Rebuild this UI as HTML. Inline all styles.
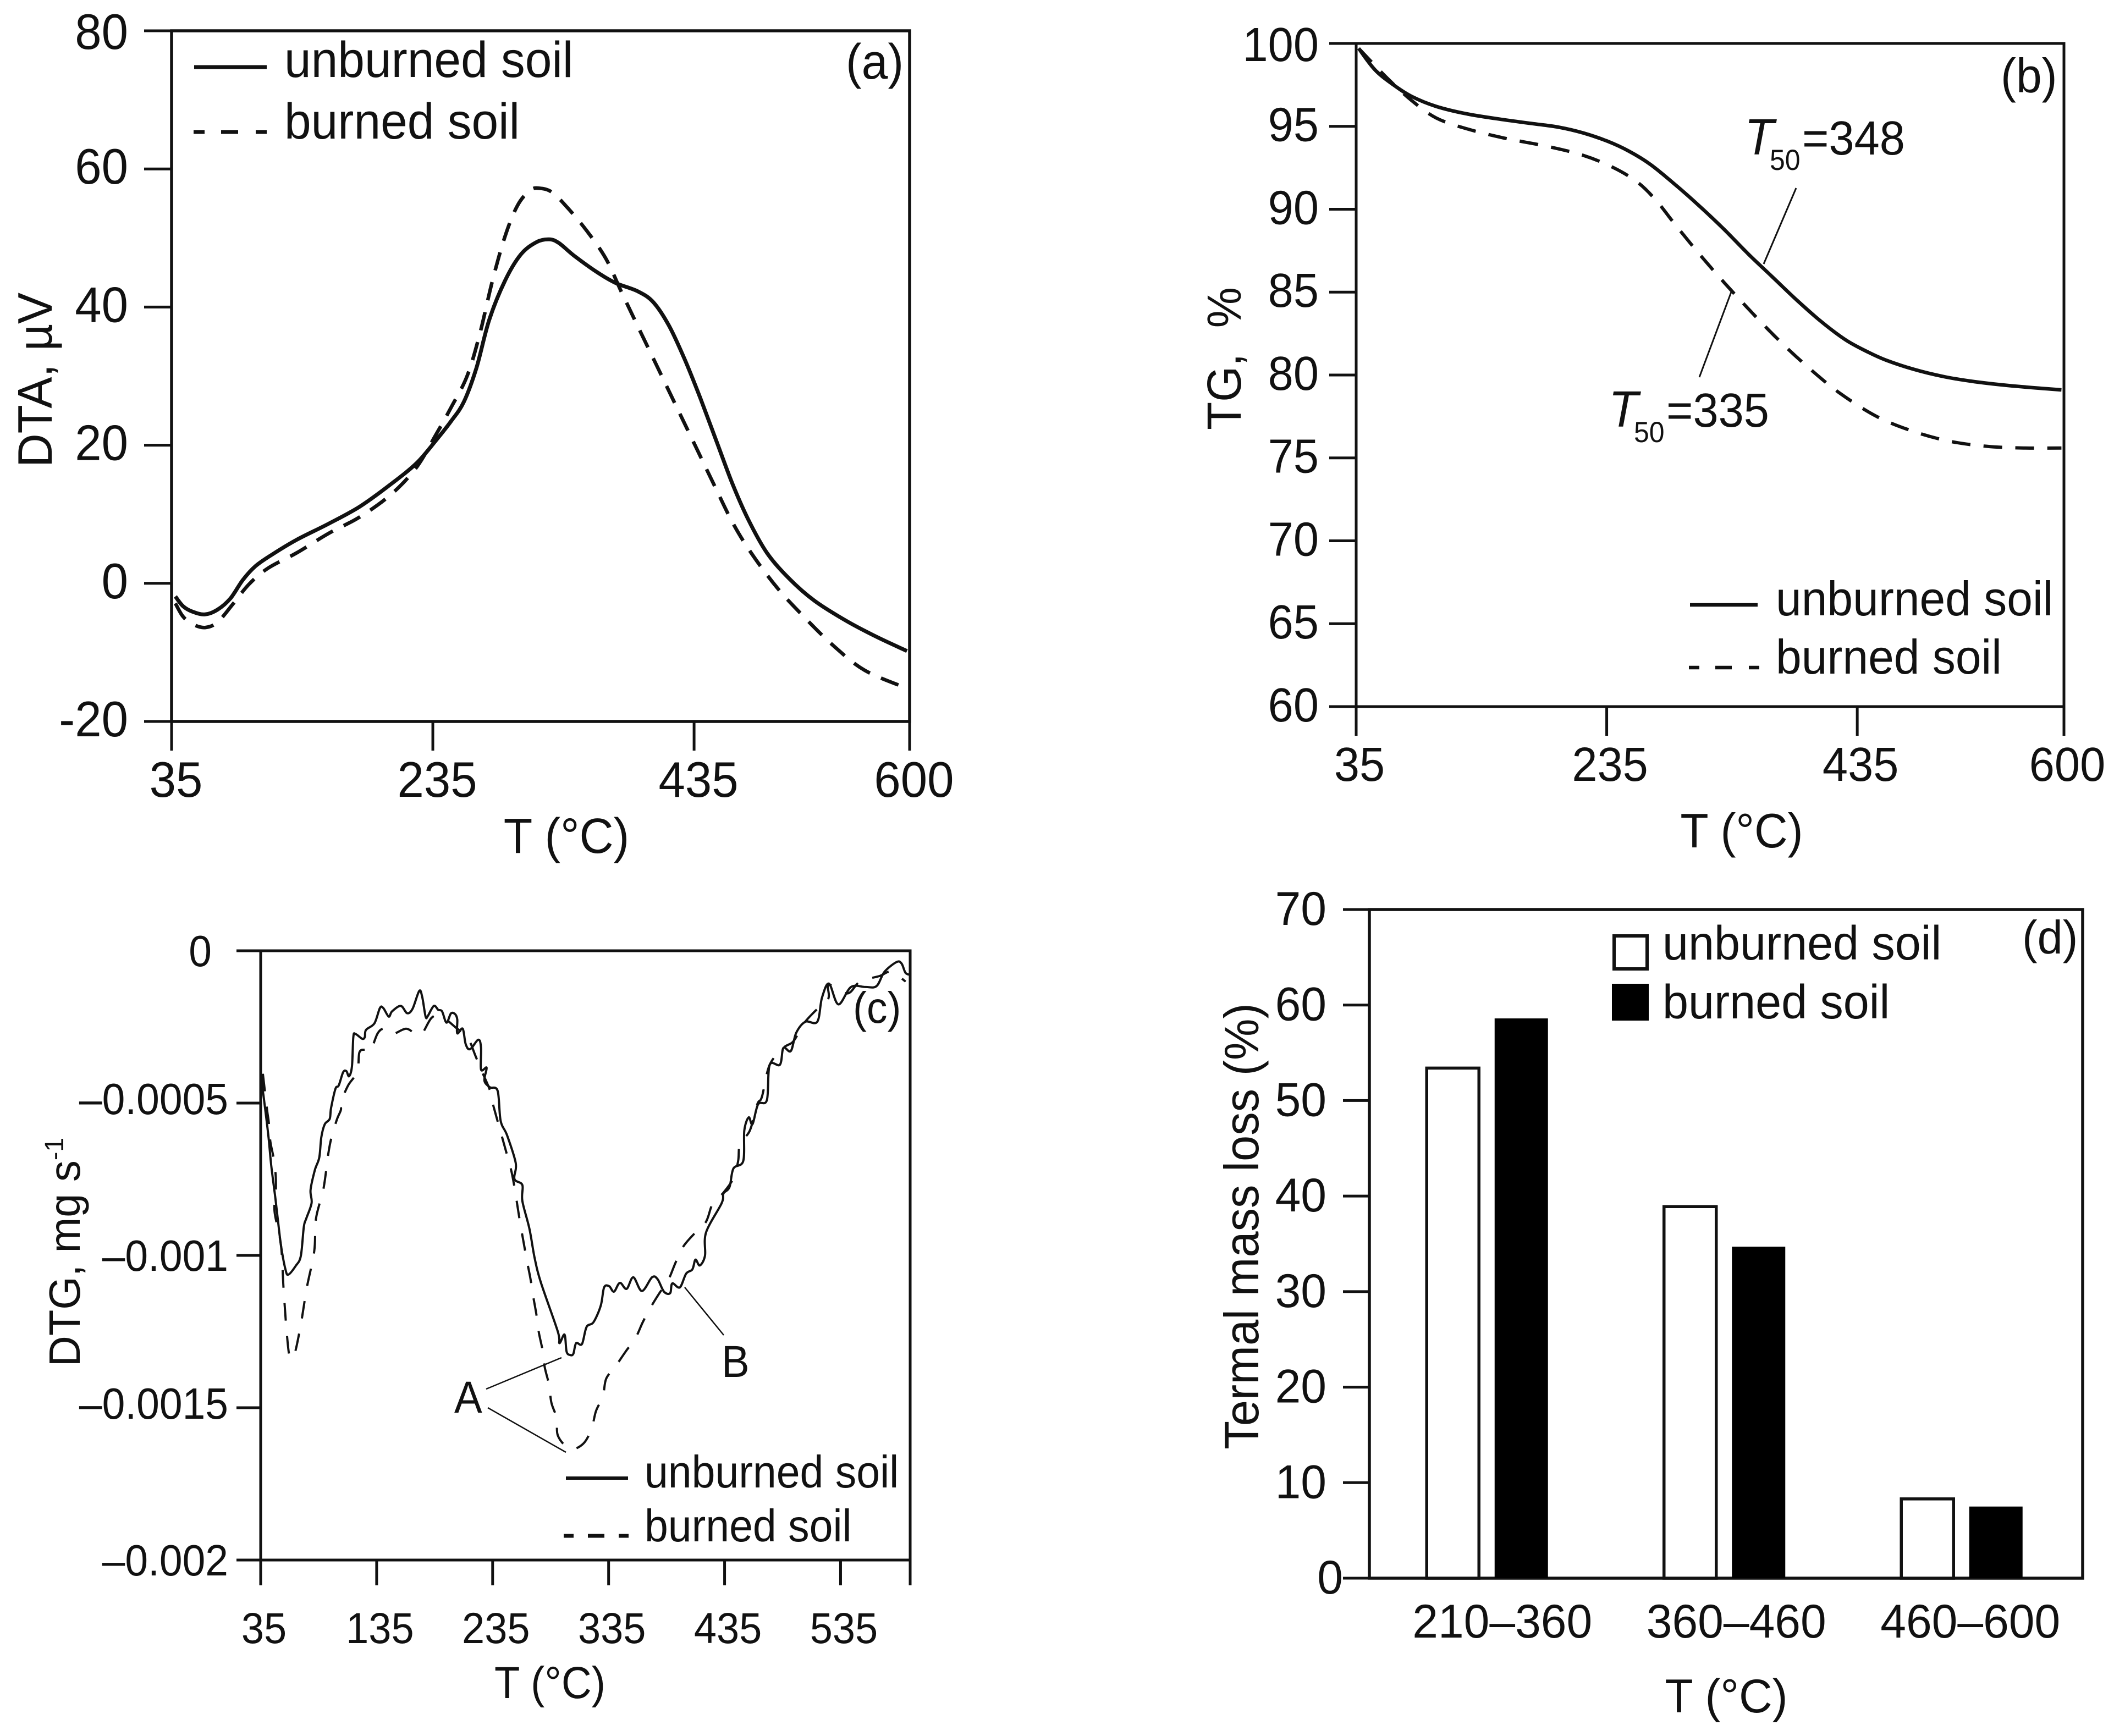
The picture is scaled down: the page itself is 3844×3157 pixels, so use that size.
<!DOCTYPE html>
<html lang="en">
<head>
<meta charset="utf-8">
<title>Thermal analysis of unburned and burned soil</title>
<style>
html,body{margin:0;padding:0;background:#fff;}
svg{display:block;}
text{font-family:"Liberation Sans",sans-serif;fill:#111;}
</style>
</head>
<body>
<svg id="figure" xmlns="http://www.w3.org/2000/svg" width="3844" height="3157" viewBox="0 0 3844 3157">
  <rect width="3844" height="3157" fill="#fff"/>

  <g id="panel-a" data-stretch="1.05">
    <rect x="312" y="56" width="1342" height="1256" fill="none" stroke="#111" stroke-width="5.5"/>
    <text x="1030" y="1551" font-size="86" text-anchor="middle">T (°C)</text>
    <text transform="translate(94,691) rotate(-90) scale(0.97,1)" font-size="88" text-anchor="middle">DTA, µV</text>
    <line x1="353" y1="122" x2="485" y2="122" stroke="#111" stroke-width="7"/>
    <line x1="352" y1="240" x2="485" y2="240" stroke="#111" stroke-width="7" stroke-dasharray="20 30 31 32 20"/>
    <text x="517" y="140" font-size="87.5">unburned soil</text>
    <text x="517" y="252" font-size="87.5">burned soil</text>
    <text x="1538" y="143" font-size="86">(a)</text>
  </g>

  <g id="panel-b" data-stretch="1.05">
    <rect x="2466" y="79" width="1287" height="1206" fill="none" stroke="#111" stroke-width="5"/>
    <text x="3167" y="1541" font-size="84" text-anchor="middle">T (°C)</text>
    <text transform="translate(2256,652) rotate(-90) scale(0.96,1)" font-size="87" text-anchor="middle" xml:space="preserve">TG,  %</text>
    <line x1="3073" y1="1100" x2="3196" y2="1100" stroke="#111" stroke-width="6.5"/>
    <line x1="3071" y1="1214" x2="3199" y2="1214" stroke="#111" stroke-width="6.5" stroke-dasharray="19 29 30 31 19"/>
    <text x="3229" y="1119" font-size="84">unburned soil</text>
    <text x="3229" y="1225" font-size="84">burned soil</text>
    <text x="3638" y="168" font-size="84">(b)</text>
    <text x="3172" y="281" font-size="88" font-style="italic">T</text>
    <text x="3218" y="309" font-size="50">50</text>
    <text x="3277" y="281" font-size="83">=348</text>
    <text x="2925" y="776" font-size="88" font-style="italic">T</text>
    <text x="2971" y="804" font-size="50">50</text>
    <text x="3030" y="776" font-size="83">=335</text>
    <line x1="3266" y1="342" x2="3207" y2="480" stroke="#111" stroke-width="3"/>
    <line x1="3148" y1="531" x2="3090" y2="686" stroke="#111" stroke-width="3"/>
  </g>

  <g id="panel-c" data-stretch="1.07">
    <rect x="474" y="1729" width="1181" height="1108" fill="none" stroke="#111" stroke-width="5"/>
    <text x="1000" y="3088" font-size="76" text-anchor="middle">T (°C)</text>
    <text transform="translate(145,2277) rotate(-90) scale(0.97,1)" font-size="80" text-anchor="middle">DTG, mg s<tspan font-size="48" dy="-30">-1</tspan></text>
    <line x1="1029" y1="2688" x2="1142" y2="2688" stroke="#111" stroke-width="6"/>
    <line x1="1025" y1="2793" x2="1143" y2="2793" stroke="#111" stroke-width="7" stroke-dasharray="18 26 30 26 18"/>
    <text x="1172" y="2705" font-size="77">unburned soil</text>
    <text x="1172" y="2803" font-size="77">burned soil</text>
    <text x="1551" y="1860" font-size="75">(c)</text>
    <text x="826" y="2569" font-size="76">A</text>
    <text x="1312" y="2504" font-size="76">B</text>
    <line x1="884" y1="2526" x2="1021" y2="2469" stroke="#111" stroke-width="2.5"/>
    <line x1="887" y1="2560" x2="1029" y2="2641" stroke="#111" stroke-width="2.5"/>
    <line x1="1245" y1="2341" x2="1316" y2="2428" stroke="#111" stroke-width="2.5"/>
  </g>

  <g id="panel-d" data-stretch="1.03">
    <rect x="2490" y="1654" width="1297" height="1216" fill="none" stroke="#111" stroke-width="5.5"/>
    <text x="3139" y="3114" font-size="84" text-anchor="middle">T (°C)</text>
    <text transform="translate(2288,2230) rotate(-90) scale(0.965,1)" font-size="88" text-anchor="middle">Termal mass loss (%)</text>
    <rect x="2935" y="1702" width="60" height="60" fill="#fff" stroke="#111" stroke-width="6"/>
    <rect x="2931" y="1789" width="67" height="67" fill="#000"/>
    <text x="3023" y="1745" font-size="84.5">unburned soil</text>
    <text x="3023" y="1852" font-size="84.5">burned soil</text>
    <text x="3677" y="1734" font-size="83">(d)</text>
  </g>
</svg>

<script>
/* ---------- panel (a) DTA data ---------- */
const dtaXTicks = [35, 235, 435, 600];
const dtaYTicks = [-20, 0, 20, 40, 60, 80];
const dtaYLabels = ['-20', '0', '20', '40', '60', '80'];
const dtaUnburnedT = [37.9,43.7,51,60.6,70.3,80,89.6,99.3,111.4,130.7,154.9,179,203.2,222.5,237,249.1,258.8,268.4,278.1,290.2,302.3,314.4,324,331.3,343.4,360.3,374.8,391.7,403.8,415.8,427.9,440,452.1,464.2,476.3,490.8,507.7,527,551.2,575.3,598];
const dtaUnburnedV = [-1.9,-3.3,-4.1,-4.5,-3.8,-2.2,0.5,2.5,4.1,6.3,8.6,11.1,14.4,17.4,20.6,23.5,26.3,31.2,38.1,43.8,47.6,49.4,49.8,49.3,47.4,45.1,43.5,42.3,40.7,37.3,32.4,26.7,20.6,14.5,9.3,4.4,0.7,-2.5,-5.4,-7.8,-9.8];
const dtaBurnedT = [37.9,43.7,51,60.6,70.3,82.4,94.4,108.9,130.7,154.9,179,203.2,222.5,237,249.1,261.2,270.8,280.5,290.2,299.8,309.5,316.8,326.4,338.5,353,367.5,379.6,391.7,406.2,420.7,435.2,449.7,464.2,478.7,498,517.3,541.5,565.7,598];
const dtaBurnedV = [-2.9,-4.8,-5.9,-6.4,-5.6,-2.9,-0.1,2.2,4.4,7.2,9.6,12.9,16.8,21.4,25.5,30,36,43.7,50.2,54.7,56.9,57.2,56.6,54.3,51,47,42.1,37.3,31.6,25.9,20.2,14.5,8.9,4.4,-0.5,-4.5,-9,-12.6,-15.2];

/* ---------- panel (b) TG data ---------- */
const tgXTicks = [35, 235, 435, 600];
const tgYTicks = [60, 65, 70, 75, 80, 85, 90, 95, 100];
const tgYLabels = ['60', '65', '70', '75', '80', '85', '90', '95', '100'];
const tgUnburnedT = [37,50.1,64.8,79.4,99,123.4,152.7,177.1,196.6,216.2,235.7,252.8,269.9,289.4,308.9,328.5,348,367.5,387,406.6,426.1,443.2,457.9,479.8,504.3,528.7,558,598];
const tgUnburnedV = [99.7,98.4,97.5,96.8,96.2,95.75,95.4,95.15,94.95,94.6,94.1,93.5,92.7,91.5,90.2,88.8,87.3,85.9,84.5,83.2,82.1,81.4,80.9,80.35,79.9,79.6,79.35,79.1];
const tgBurnedT = [37,59.9,79.4,99,123.4,152.7,186.9,216.2,240.6,260.1,274.8,289.4,308.9,328.5,348,372.4,396.8,421.2,450.5,479.8,509.1,538.4,567.7,598];
const tgBurnedV = [99.7,97.9,96.55,95.5,94.85,94.3,93.8,93.25,92.5,91.6,90.5,89.1,87.3,85.6,84,82.1,80.4,78.9,77.5,76.6,76,75.7,75.6,75.6];

/* ---------- panel (c) DTG data ---------- */
const dtgXTicks = [35, 135, 235, 335, 435, 535, 595];
const dtgXLabels = ['35', '135', '235', '335', '435', '535', ''];
const dtgYTicks = [0, -0.0005, -0.001, -0.0015, -0.002];
const dtgYLabels = ['0', '–0.0005', '–0.001', '–0.0015', '–0.002'];
const dtgUnburnedT = [36.9,36.4,37.8,41.6,44.2,47.8,49.7,52.5,56.3,58.9,65.3,69.6,72.2,74.3,78.9,78,81.7,85.5,87.3,90.2,94.5,95.7,99.5,102.3,106.1,108.9,111.2,113.7,114.9,116.7,122.6,124.8,125.8,133.1,137.8,140.7,145.4,148.3,155.8,161.3,166,171.7,174.3,177.2,179.1,184.3,188.1,191.4,195.2,199,202.6,204.5,204.5,209.2,211.8,215.6,222.7,225,225,229.8,227.9,232.6,239.3,241.9,247.5,254.9,253.8,260.6,260.6,266.7,271.2,276.7,291.2,292.6,297,298.8,302,304.6,307,312,316,322,328.3,331.1,335.5,339.6,344.7,350.5,356.3,363.7,372.4,377.2,382.7,388,389.9,396.4,401.8,407.2,409.9,413.6,418.1,419,432.4,434,439.2,442.6,451.1,452,455.8,459.1,463.9,471.5,473.8,482.7,485.7,492.1,496.8,504.6,514.9,518.9,525,533.1,544,556.5,566,572.9,583.3,587.6,590.9,594.7];
const dtgUnburnedV = [-0.000404,-0.000444,-0.000486,-0.000606,-0.000708,-0.000816,-0.000879,-0.000967,-0.001045,-0.001063,-0.001034,-0.001002,-0.000906,-0.000879,-0.000828,-0.000785,-0.00072,-0.000679,-0.000612,-0.00057,-0.000552,-0.000516,-0.000453,-0.000442,-0.000399,-0.000395,-0.000412,-0.000379,-0.000283,-0.000273,-0.000289,-0.000283,-0.00026,-0.000238,-0.000188,-0.000188,-0.000216,-0.000199,-0.000181,-0.000205,-0.00019,-0.000132,-0.000152,-0.000216,-0.000214,-0.000181,-0.000194,-0.000199,-0.000236,-0.000206,-0.000208,-0.000226,-0.000271,-0.000256,-0.000307,-0.000323,-0.000292,-0.000319,-0.00039,-0.000384,-0.000426,-0.000448,-0.00046,-0.000558,-0.000606,-0.000697,-0.000749,-0.000769,-0.000821,-0.000912,-0.001008,-0.00109,-0.00125,-0.001288,-0.00126,-0.001316,-0.001327,-0.001323,-0.001288,-0.001291,-0.001235,-0.001219,-0.001164,-0.001105,-0.001101,-0.001119,-0.00109,-0.00111,-0.001072,-0.001117,-0.001072,-0.001078,-0.001119,-0.001124,-0.001092,-0.001105,-0.00106,-0.001046,-0.001014,-0.001033,-0.001001,-0.000925,-0.000829,-0.000797,-0.000776,-0.000715,-0.00069,-0.00059,-0.000547,-0.000569,-0.000504,-0.00049,-0.000375,-0.000374,-0.000319,-0.000329,-0.000269,-0.000233,-0.000233,-0.000155,-0.000108,-0.000176,-0.000119,-0.000119,-0.000116,-0.000069,-0.000037,-0.000042,-0.000072,-0.000079];
const dtgBurnedT = [36.9,40.5,42,43.3,46.1,48,48,47,52.5,54.7,57.3,60,64.2,69.6,74.8,81.2,82.7,89.2,93.3,96.3,100.9,104.2,104.2,110.4,118.3,120.1,124.8,129.5,135.9,141.6,148.3,160.4,168.8,174.3,182.4,190.4,204.2,213.2,220.3,225,232.6,235.5,247.5,251.3,254.4,256.8,259.4,262,264.8,267.7,270.1,272.7,274.8,277.9,279.9,283.6,285.7,290.2,291.4,301.7,312.9,320.2,324.1,330.1,332.9,341,349.6,358.2,364.6,371.5,378.6,386.4,392.8,399.4,408.8,418.9,424.6,434,442.6,446.7,448.3,456.8,463.2,467.2,473.8,485.7,494.4,503.1,512.5,524.3,525,540.9,551.8,568.6,578.6,591.1];
const dtgBurnedV = [-0.000404,-0.000522,-0.000564,-0.000625,-0.00068,-0.000741,-0.000798,-0.000857,-0.000967,-0.001106,-0.001245,-0.001332,-0.001323,-0.001227,-0.001106,-0.000986,-0.000879,-0.00078,-0.000666,-0.000609,-0.000552,-0.000522,-0.000498,-0.000442,-0.000397,-0.000334,-0.000325,-0.00033,-0.000271,-0.000256,-0.000274,-0.000256,-0.000274,-0.000271,-0.00022,-0.000214,-0.000255,-0.000282,-0.000346,-0.00039,-0.000457,-0.000507,-0.000671,-0.000726,-0.000789,-0.000848,-0.000908,-0.000963,-0.001022,-0.001078,-0.001137,-0.001193,-0.001252,-0.001309,-0.001367,-0.001424,-0.001484,-0.001534,-0.001593,-0.001635,-0.001619,-0.00157,-0.001511,-0.001462,-0.001405,-0.001364,-0.001316,-0.001271,-0.001218,-0.001169,-0.001125,-0.001081,-0.001023,-0.000971,-0.000929,-0.00089,-0.000832,-0.000794,-0.000747,-0.00069,-0.000633,-0.00059,-0.000504,-0.000479,-0.000375,-0.000319,-0.000297,-0.00024,-0.0002,-0.000158,-0.000112,-0.00014,-0.000101,-0.000083,-0.000069,-0.000101];

/* ---------- panel (d) bar data ---------- */
const massCategories = ['210–360', '360–460', '460–600'];
const massUnburned = [53.4, 38.9, 8.3];
const massBurned = [58.6, 34.7, 7.5];
const massYTicks = [0, 10, 20, 30, 40, 50, 60, 70];
const massYLabels = ['0', '10', '20', '30', '40', '50', '60', '70'];

/* ---------- helpers ---------- */
const NS = 'http://www.w3.org/2000/svg';

function linear(d0, d1, r0, r1) {
  return function (v) { return r0 + (v - d0) * (r1 - r0) / (d1 - d0); };
}

function smoothPath(xs, ys) {
  let d = 'M' + xs[0].toFixed(1) + ' ' + ys[0].toFixed(1);
  for (let i = 0; i < xs.length - 1; i++) {
    const p0 = Math.max(i - 1, 0), p3 = Math.min(i + 2, xs.length - 1);
    const c1x = xs[i] + (xs[i + 1] - xs[p0]) / 6, c1y = ys[i] + (ys[i + 1] - ys[p0]) / 6;
    const c2x = xs[i + 1] - (xs[p3] - xs[i]) / 6, c2y = ys[i + 1] - (ys[p3] - ys[i]) / 6;
    d += 'C' + c1x.toFixed(1) + ' ' + c1y.toFixed(1) + ' ' + c2x.toFixed(1) + ' ' + c2y.toFixed(1) + ' ' + xs[i + 1].toFixed(1) + ' ' + ys[i + 1].toFixed(1);
  }
  return d;
}

function drawCurve(panel, Ts, Vs, xf, yf, width, dash, name) {
  const el = document.createElementNS(NS, 'path');
  el.setAttribute('d', smoothPath(Ts.map(xf), Vs.map(yf)));
  el.setAttribute('fill', 'none');
  el.setAttribute('stroke', '#111');
  el.setAttribute('stroke-width', width);
  el.setAttribute('stroke-linejoin', 'round');
  if (dash) el.setAttribute('stroke-dasharray', dash);
  
  
  panel.appendChild(el);
}

function drawTickLine(panel, x1, y1, x2, y2, name) {
  const el = document.createElementNS(NS, 'line');
  el.setAttribute('x1', x1);
  el.setAttribute('y1', y1);
  el.setAttribute('x2', x2);
  el.setAttribute('y2', y2);
  el.setAttribute('stroke', '#111');
  el.setAttribute('stroke-width', 5);
  
  
  panel.appendChild(el);
}

function drawLabel(panel, x, y, size, anchor, content, name) {
  const el = document.createElementNS(NS, 'text');
  el.setAttribute('x', x);
  el.setAttribute('y', y);
  el.setAttribute('font-size', size);
  el.setAttribute('text-anchor', anchor);
  el.textContent = content;
  
  
  panel.appendChild(el);
}

function drawYAxis(panel, yf, ticks, labels, left, tickEnd, labelRight, zeroRight, size, dyFor, prefix) {
  ticks.forEach(function (t, i) {
    const y = yf(t);
    drawTickLine(panel, tickEnd, y, left, y, prefix + '-y-tick');
    const right = t === 0 ? zeroRight : labelRight;
    drawLabel(panel, right, y + dyFor(labels[i]), size, 'end', labels[i], prefix + '-y-tick-label');
  });
}

function drawXAxis(panel, xf, ticks, labels, bottom, tickEnd, baseline, dx, size, prefix) {
  ticks.forEach(function (t, i) {
    const x = xf(t);
    drawTickLine(panel, x, bottom, x, tickEnd, prefix + '-x-tick');
    if (labels[i]) {
      drawLabel(panel, x + dx, baseline, size, 'middle', labels[i], prefix + '-x-tick-label');
    }
  });
}

/* ---------- panel (a) ---------- */
(function () {
  const g = document.getElementById('panel-a');
  const x = linear(35, 600, 312, 1654), y = linear(-20, 80, 1312, 56);
  drawYAxis(g, y, dtaYTicks, dtaYLabels, 312, 262, 233, 233, 87, function (l) { return l === '80' ? 33 : 27; }, 'dta');
  drawXAxis(g, x, dtaXTicks, dtaXTicks.map(String), 1312, 1365, 1449, 8, 87, 'dta');
  drawCurve(g, dtaBurnedT, dtaBurnedV, x, y, 6.5, '34 22', 'dta-burned-curve');
  drawCurve(g, dtaUnburnedT, dtaUnburnedV, x, y, 7, null, 'dta-unburned-curve');
})();

/* ---------- panel (b) ---------- */
(function () {
  const g = document.getElementById('panel-b');
  const x = linear(35, 600, 2466, 3753), y = linear(60, 100, 1285, 79);
  drawYAxis(g, y, tgYTicks, tgYLabels, 2466, 2417, 2398, 2398, 83, function (l) { return l === '100' ? 32 : 27; }, 'tg');
  drawXAxis(g, x, tgXTicks, tgXTicks.map(String), 1285, 1338, 1420, 6, 83, 'tg');
  drawCurve(g, tgBurnedT, tgBurnedV, x, y, 6, '34 24', 'tg-burned-curve');
  drawCurve(g, tgUnburnedT, tgUnburnedV, x, y, 6.5, null, 'tg-unburned-curve');
})();

/* ---------- panel (c) ---------- */
(function () {
  const g = document.getElementById('panel-c');
  const x = linear(35, 595, 474, 1655), y = linear(-0.002, 0, 2837, 1729);
  drawYAxis(g, y, dtgYTicks, dtgYLabels, 474, 430, 415, 385, 75, function (l) { return l.length > 6 ? 20 : 28; }, 'dtg');
  drawXAxis(g, x, dtgXTicks, dtgXLabels, 2837, 2883, 2988, 6, 74, 'dtg');
  drawCurve(g, dtgBurnedT, dtgBurnedV, x, y, 4, '32 28', 'dtg-burned-curve');
  drawCurve(g, dtgUnburnedT, dtgUnburnedV, x, y, 4, null, 'dtg-unburned-curve');
})();

/* ---------- panel (d) ---------- */
(function () {
  const g = document.getElementById('panel-d');
  const left = 2489, bottom = 2870;
  const y = linear(0, 70, bottom, 1654);
  const band = 431.5;
  const whiteW = 100, blackW = 97, gap = 13;
  drawYAxis(g, y, massYTicks, massYLabels, 2490, 2442, 2412, 2442, 84, function () { return 28; }, 'mass-loss');
  massCategories.forEach(function (cat, i) {
    const c = left + band * (i + 0.5);
    const un = document.createElementNS(NS, 'rect');
    un.setAttribute('x', c - gap - whiteW + 2.5);
    un.setAttribute('y', y(massUnburned[i]));
    un.setAttribute('width', whiteW - 5);
    un.setAttribute('height', bottom - y(massUnburned[i]));
    un.setAttribute('fill', '#fff');
    un.setAttribute('stroke', '#111');
    un.setAttribute('stroke-width', 5.5);
    
    
    g.appendChild(un);
    const bu = document.createElementNS(NS, 'rect');
    bu.setAttribute('x', c + gap);
    bu.setAttribute('y', y(massBurned[i]));
    bu.setAttribute('width', blackW);
    bu.setAttribute('height', bottom - y(massBurned[i]));
    bu.setAttribute('fill', '#000');
    
    
    g.appendChild(bu);
    drawLabel(g, c + 27 - i * 6, 2978, 84, 'middle', cat, 'mass-loss-x-tick-label');
  });
})();

/* ---------- the source figure's glyphs are slightly taller than wide ---------- */
document.querySelectorAll('g[data-stretch]').forEach(function (g) {
  const sy = g.getAttribute('data-stretch');
  g.querySelectorAll('text:not([transform])').forEach(function (t) {
    const by = t.getAttribute('y');
    t.setAttribute('transform', 'translate(0,' + by + ') scale(1,' + sy + ') translate(0,' + (-by) + ')');
  });
});
</script>
</body>
</html>
